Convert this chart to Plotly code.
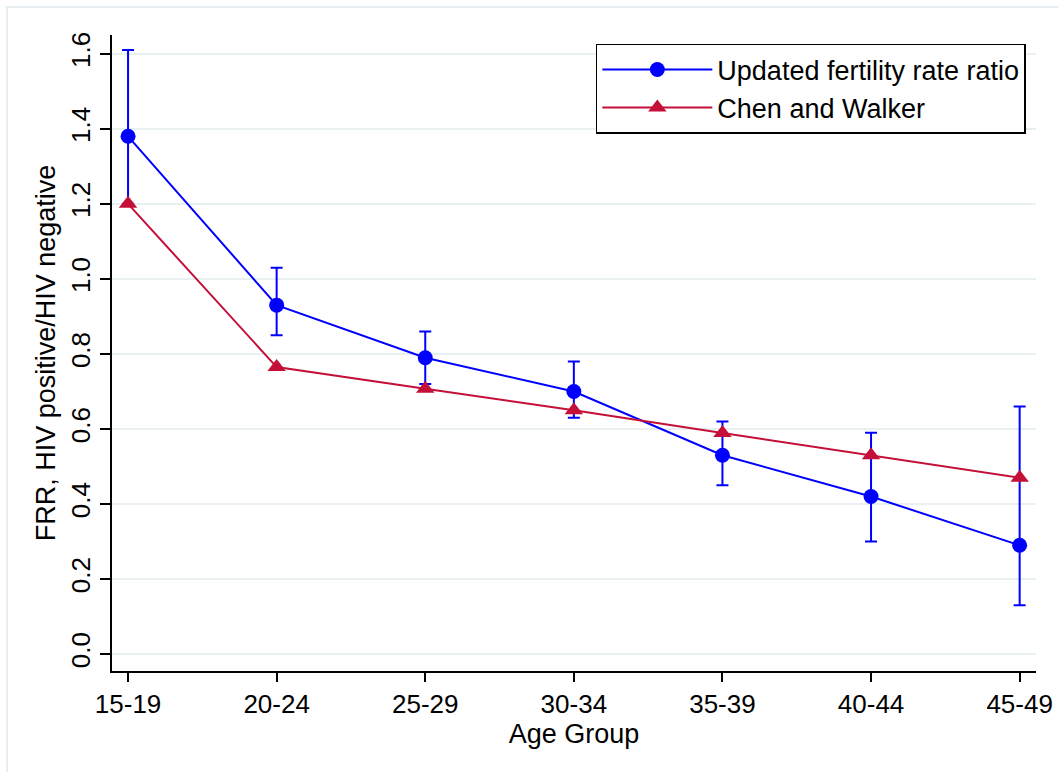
import plotly.graph_objects as go

age_groups = ["15-19", "20-24", "25-29", "30-34", "35-39", "40-44", "45-49"]
updated_ratio = [1.38, 0.93, 0.79, 0.70, 0.53, 0.42, 0.29]
updated_upper = [1.61, 1.03, 0.86, 0.78, 0.62, 0.59, 0.66]
updated_lower = [1.20, 0.85, 0.72, 0.63, 0.45, 0.30, 0.13]
chen_walker = [1.20, 0.765, 0.707, 0.650, 0.589, 0.530, 0.470]
y_ticks = [0.0, 0.2, 0.4, 0.6, 0.8, 1.0, 1.2, 1.4, 1.6]
reference_level = 1.0

BLUE = "#0000ff"
RED = "#c41039"
FONT = "Liberation Sans, Arial, sans-serif"

x_idx = list(range(len(age_groups)))
err_plus = [u - v for u, v in zip(updated_upper, updated_ratio)]
err_minus = [v - l for v, l in zip(updated_ratio, updated_lower)]

fig = go.Figure()
fig.add_trace(go.Scatter(
    x=x_idx, y=updated_ratio, mode="lines+markers",
    name="Updated fertility rate ratio",
    line=dict(color=BLUE, width=2),
    marker=dict(symbol="circle", size=15, color=BLUE),
    error_y=dict(type="data", symmetric=False, array=err_plus, arrayminus=err_minus,
                 color=BLUE, thickness=2, width=6),
))
fig.add_trace(go.Scatter(
    x=x_idx, y=chen_walker, mode="lines+markers",
    name="Chen and Walker",
    line=dict(color=RED, width=2),
    marker=dict(symbol="triangle-up", size=16, color=RED),
))

fig.add_shape(type="line", xref="paper", yref="y", x0=0, x1=1,
              y0=reference_level, y1=reference_level,
              line=dict(color=RED, width=2), layer="between")

# faint outer frame of the graph region
fig.add_shape(type="rect", xref="paper", yref="paper",
              x0=-0.1136, x1=1.2, y0=-0.3, y1=1.044,
              line=dict(color="#e6eef1", width=2), layer="below")

fig.update_layout(
    width=1058, height=772,
    margin=dict(l=112, r=22, t=35, b=101),
    paper_bgcolor="white", plot_bgcolor="white",
    font=dict(family=FONT, size=26, color="black"),
    showlegend=True,
    legend=dict(
        x=0.989, y=0.986, xanchor="right", yanchor="top",
        bordercolor="black", borderwidth=1.5, bgcolor="white",
        font=dict(family=FONT, size=27, color="black"),
        itemwidth=110, tracegroupgap=0,
    ),
    xaxis=dict(
        range=[-0.108, 6.11], automargin=False,
        tickmode="array", tickvals=x_idx, ticktext=age_groups,
        showgrid=False, zeroline=False,
        showline=True, linecolor="black", linewidth=1.5,
        ticks="outside", ticklen=9, tickwidth=1.5, tickcolor="black",
        tickfont=dict(family=FONT, size=26),
        title=dict(text="Age Group", font=dict(family=FONT, size=27), standoff=0),
    ),
    yaxis=dict(
        range=[-0.045, 1.65], automargin=False,
        tickmode="array", tickvals=y_ticks,
        ticktext=[f"{v:.1f}" for v in y_ticks],
        tickangle=-90,
        showgrid=True, gridcolor="#e8f0f1", gridwidth=2,
        zeroline=False,
        showline=True, linecolor="black", linewidth=1.5,
        ticks="outside", ticklen=10, tickwidth=1.5, tickcolor="black",
        tickfont=dict(family=FONT, size=26),
        title=dict(text="FRR, HIV positive/HIV negative",
                   font=dict(family=FONT, size=27), standoff=2),
    ),
)

fig.write_html("out.html", config={"displayModeBar": False},
               post_script="document.body.style.margin='0';")
